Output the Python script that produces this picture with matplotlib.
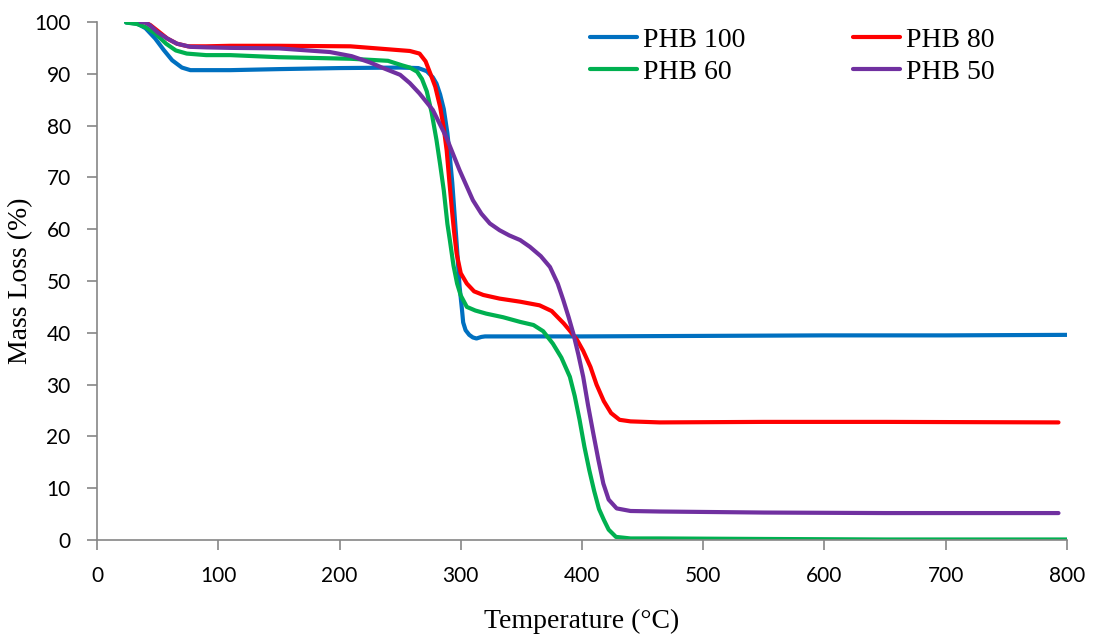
import numpy as np
import matplotlib
matplotlib.use('Agg')
import matplotlib.pyplot as plt

# TGA curves
t_phb100 = [24, 33, 40, 48, 55, 62, 70, 77, 90, 110, 150, 200, 250, 265, 272, 277,
            280, 283, 286, 289, 291, 293, 295, 297, 299, 301, 302, 304, 307, 310,
            313, 317, 320, 350, 400, 500, 600, 700, 800]
m_phb100 = [99.9, 99.7, 98.8, 96.8, 94.6, 92.6, 91.2, 90.7, 90.7, 90.7, 90.9, 91.1,
            91.2, 91.1, 90.5, 89.3, 88.1, 86.0, 83.2, 78.5, 74.0, 69.0, 62.5, 56.0,
            49.0, 44.5, 42.0, 40.5, 39.6, 39.1, 38.9, 39.2, 39.3, 39.3, 39.3, 39.4,
            39.5, 39.5, 39.6]

t_phb80 = [36, 40, 44, 50, 58, 66, 75, 90, 110, 150, 209, 247, 258, 266, 271, 275,
           279, 283, 286, 288.4, 290.5, 292.5, 294.5, 296.6, 300, 305, 311, 318.6,
           332, 349, 365, 375, 385, 390, 396, 401, 407, 412, 418, 424, 431, 440, 464,
           550, 650, 793]
m_phb80 = [100, 99.9, 99.4, 98.3, 96.8, 95.8, 95.3, 95.3, 95.4, 95.4, 95.3, 94.6,
           94.4, 93.9, 92.4, 90.0, 87.5, 83.6, 79.5, 75.2, 69.5, 64.3, 59.5, 55.3,
           51.5, 49.5, 48.0, 47.3, 46.6, 46.0, 45.3, 44.2, 41.8, 40.4, 38.6, 36.5,
           33.4, 30.0, 26.8, 24.5, 23.2, 22.9, 22.7, 22.8, 22.8, 22.7]

t_phb60 = [24, 33, 40, 48, 57, 65, 74, 90, 110, 150, 209, 240, 252, 258, 264, 268,
           272, 276, 280, 283, 286, 289, 291, 294, 297, 300, 305, 312, 321, 335, 349,
           360, 368, 376, 383, 390, 394, 398, 402, 406, 410, 414, 418, 422, 428, 440,
           464, 550, 650, 800]
m_phb60 = [99.9, 99.6, 99.0, 97.8, 95.8, 94.5, 93.9, 93.6, 93.6, 93.2, 92.9, 92.5,
           91.6, 91.2, 90.4, 89.0, 86.6, 82.5, 77.2, 72.5, 67.5, 61.0, 57.9, 53.0,
           49.5, 47.2, 45.0, 44.3, 43.7, 43.0, 42.1, 41.5, 40.3, 37.9, 35.2, 31.5,
           27.8, 23.2, 18.0, 13.5, 9.5, 6.0, 3.9, 2.0, 0.6, 0.3, 0.3, 0.2, 0.1, 0.1]

t_phb50 = [36, 40, 44, 50, 58, 66, 77, 90, 110, 150, 192, 210, 225, 235, 250, 258,
           266, 277, 288, 299, 310, 317, 324, 332, 340, 349, 357, 366, 373.6, 380,
           384.6, 389, 392.8, 397, 401, 405, 409.3, 413.5, 417.6, 422, 428.6, 440,
           464, 550, 650, 793]
m_phb50 = [100, 99.9, 99.3, 98.0, 96.8, 95.8, 95.2, 95.1, 95.0, 94.9, 94.2, 93.4,
           92.2, 91.2, 89.8, 88.2, 86.2, 83.0, 77.8, 71.4, 65.6, 63.0, 61.1, 59.8,
           58.8, 57.9, 56.6, 54.8, 52.7, 49.5, 46.3, 43.0, 39.9, 35.8, 31.5, 26.0,
           20.6, 15.5, 10.9, 7.8, 6.1, 5.6, 5.5, 5.3, 5.2, 5.2]

labels = ['PHB 100', 'PHB 80', 'PHB 60', 'PHB 50']
colors = ['#0070C0', '#FF0000', '#00B050', '#7030A0']

x_ticks = np.arange(0, 801, 100)
y_ticks = np.arange(0, 101, 10)

fig = plt.figure(figsize=(10.95, 6.35), dpi=100)
ax = fig.add_axes([0.0886, 0.1496, 0.8858, 0.8158])

series = [(t_phb100, m_phb100), (t_phb80, m_phb80),
          (t_phb60, m_phb60), (t_phb50, m_phb50)]
lines = []
for (t, m), lab, col in zip(series, labels, colors):
    ln, = ax.plot(t, m, color=col, lw=3, label=lab,
                  solid_capstyle='round', solid_joinstyle='round')
    lines.append(ln)

ax.set_xlim(0, 800)
ax.set_ylim(0, 100)
ax.set_xticks(x_ticks)
ax.set_yticks(y_ticks)

# excel style axes: grey left/bottom only, ticks outside
for s in ['top', 'right']:
    ax.spines[s].set_visible(False)
for s in ['left', 'bottom']:
    ax.spines[s].set_color('#868686')
    ax.spines[s].set_linewidth(1.2)
ax.tick_params(direction='out', length=7, width=1.2, color='#868686',
               labelsize=15, pad=12)
for lbl in ax.get_xticklabels() + ax.get_yticklabels():
    lbl.set_fontfamily('Lato')
    lbl.set_color('black')

ax.set_xlabel('Temperature (°C)', fontfamily='Liberation Serif', fontsize=20, labelpad=16)
ax.set_ylabel('Mass Loss (%)', fontfamily='Liberation Serif', fontsize=20, labelpad=1)

# legend order: 100, 60 in first column, 80, 50 in second
order = [0, 2, 1, 3]
ax.legend([lines[i] for i in order], [labels[i] for i in order],
          ncol=2, frameon=False, loc='upper left', bbox_to_anchor=(0.508, 0.99),
          borderaxespad=0, borderpad=0, handlelength=1.7, handletextpad=0.2,
          columnspacing=3.9, labelspacing=0.25,
          prop={'family': 'Liberation Serif', 'size': 20})

fig.savefig('out.png', dpi=100)
